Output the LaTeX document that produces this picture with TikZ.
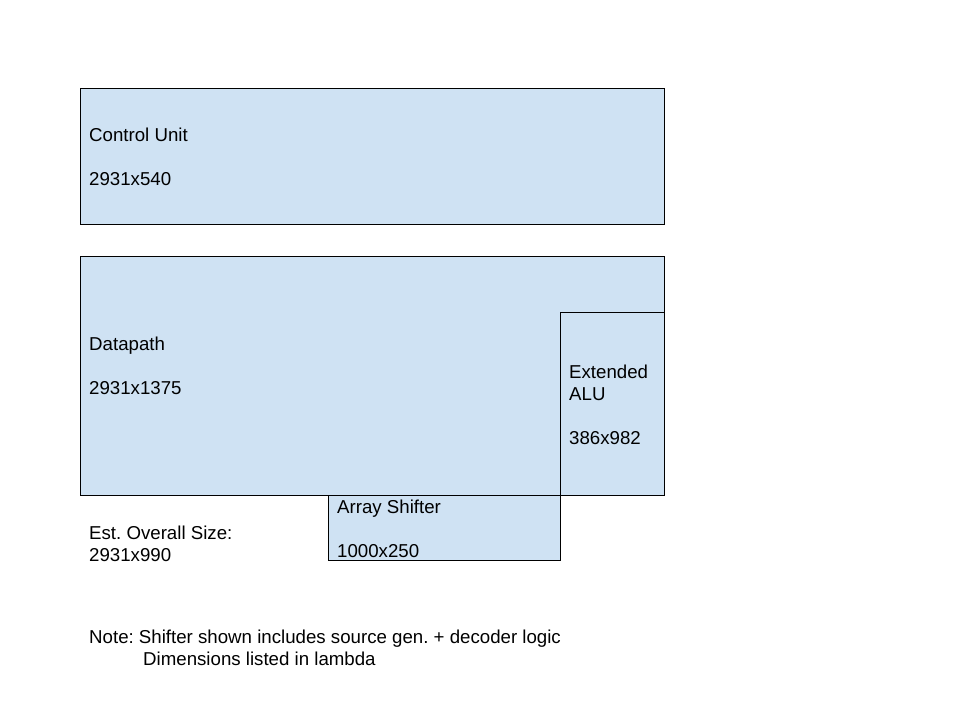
\documentclass[tikz,border=0pt]{standalone}
\usepackage{fontspec}
\setmainfont{Liberation Sans}
\definecolor{boxblue}{HTML}{CFE2F3}
\frenchspacing
\begin{document}
\begin{tikzpicture}[x=1pt,y=-1pt,
  blk/.style={fill=boxblue,draw=black,line width=1pt},
  lbl/.style={anchor=base west,inner sep=0pt,font=\frenchspacing\fontsize{18.67}{22}\selectfont}]
\useasboundingbox (0,0) rectangle (960,720);
\fill[white] (0,0) rectangle (960,720);
% blocks
\draw[blk] (328.5,495.5) rectangle (560.5,560);
\draw[blk] (80.5,256.5) rectangle (664,495.5);
\draw[blk] (560.5,312.5) rectangle (664,495.5);
\draw[blk] (80.5,88.5) rectangle (664,224);
% labels
\node[lbl] (cu1) at (89,141) {Control Unit};
\node[lbl] (cu2) at (89,185) {2931x540};
\node[lbl] (dp1) at (89,350) {Datapath};
\node[lbl] (dp2) at (89,394) {2931x1375};
\node[lbl] (alu1) at (569,378) {Extended};
\node[lbl] (alu2) at (569,400) {ALU};
\node[lbl] (alu3) at (569,444) {386x982};
\node[lbl] (sh1) at (337,513) {Array Shifter};
\node[lbl] (sh2) at (337,557) {1000x250};
\node[lbl] (est1) at (89,539) {Est. Overall Size:};
\node[lbl] (est2) at (89,561) {2931x990};
\node[lbl] (note1) at (89,643) {Note: Shifter shown includes source gen. + decoder logic};
\node[lbl] (note2) at (143,665) {Dimensions listed in lambda};
\end{tikzpicture}
\end{document}
